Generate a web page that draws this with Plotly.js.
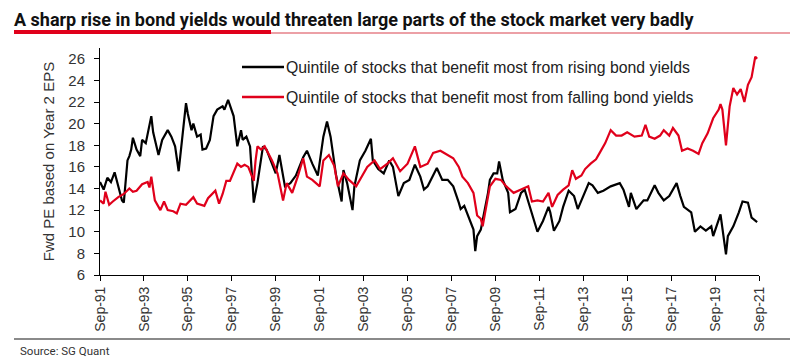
<!DOCTYPE html>
<html>
<head>
<meta charset="utf-8">
<script src="https://cdn.plot.ly/plotly-3.0.1.min.js"></script>
<style>html,body{margin:0;padding:0;background:#fff;}#chart{width:800px;height:364px;}</style>
</head>
<body>
<div id="chart"></div>
<script>
// Quintile of stocks that benefit most from rising bond yields (black)
var risingDates = ["1991-09","1991-11","1992-01","1992-03","1992-05","1992-07","1992-09","1992-10","1992-12","1993-01","1993-02","1993-03","1993-05","1993-07","1993-08","1993-10","1994-01","1994-02","1994-04","1994-05","1994-07","1994-10","1994-12","1995-02","1995-04","1995-06","1995-08","1995-09","1995-11","1995-12","1996-02","1996-04","1996-05","1996-07","1996-09","1996-11","1997-01","1997-04","1997-05","1997-07","1997-10","1997-12","1998-02","1998-03","1998-05","1998-07","1998-09","1998-11","1999-01","1999-02","1999-04","1999-09","1999-11","2000-02","2000-05","2000-08","2000-12","2001-02","2001-05","2001-08","2001-11","2002-01","2002-03","2002-06","2002-09","2002-10","2002-12","2003-03","2003-04","2003-07","2003-10","2004-01","2004-02","2004-05","2004-08","2004-11","2005-01","2005-04","2005-07","2005-10","2006-01","2006-04","2006-06","2006-08","2007-01","2007-04","2007-07","2007-10","2008-01","2008-02","2008-04","2008-06","2008-09","2008-10","2008-11","2009-01","2009-03","2009-05","2009-06","2009-08","2009-10","2009-11","2010-01","2010-04","2010-05","2010-08","2010-11","2011-01","2011-03","2011-06","2011-08","2011-11","2012-02","2012-03","2012-05","2012-08","2012-10","2013-01","2013-04","2013-06","2013-09","2013-12","2014-02","2014-05","2014-08","2014-12","2015-05","2015-07","2015-10","2015-11","2016-02","2016-06","2016-08","2016-12","2017-02","2017-05","2017-08","2017-12","2018-02","2018-04","2018-08","2018-10","2019-01","2019-04","2019-07","2019-08","2019-12","2020-03","2020-04","2020-07","2020-10","2020-12","2021-03","2021-05","2021-08"];
var risingPE = [14.6,13.9,15.0,14.6,15.5,14.2,12.9,12.7,16.6,17.0,17.6,18.7,17.6,17.0,18.5,18.2,20.7,19.2,17.9,17.1,18.5,19.4,18.8,17.9,15.6,18.5,21.9,20.9,19.4,20.0,18.8,19.0,17.6,17.7,18.5,20.7,21.3,21.6,21.3,22.2,20.7,17.9,19.4,18.5,18.8,17.9,12.7,14.5,17.1,17.9,17.6,15.4,17.1,14.2,14.5,15.2,16.9,17.5,16.3,15.2,18.8,20.2,18.8,15.2,12.8,15.7,14.5,12.0,14.2,16.6,17.5,18.6,16.6,15.8,15.4,16.6,16.0,13.3,14.5,14.8,16.2,15.1,13.9,14.2,15.9,14.8,14.8,14.2,12.7,12.1,12.4,11.5,10.2,8.2,9.6,10.2,11.8,13.6,14.8,15.4,15.4,16.5,14.8,13.6,11.8,12.1,13.6,13.9,12.8,11.1,10.0,11.0,12.3,11.8,10.1,11.0,12.3,13.8,13.3,12.1,13.4,14.5,14.3,13.6,13.8,14.2,14.5,13.9,12.3,13.6,12.1,12.9,12.9,14.3,13.6,12.9,13.3,14.5,13.3,12.3,11.8,10.0,10.5,10.1,10.5,9.6,11.6,7.9,9.6,10.5,11.8,12.8,12.7,11.3,10.9];

// Quintile of stocks that benefit most from falling bond yields (red)
var fallingDates = ["1991-09","1991-11","1991-12","1992-02","1992-04","1992-07","1992-10","1993-01","1993-03","1993-05","1993-08","1993-11","1993-12","1994-01","1994-03","1994-06","1994-08","1994-10","1995-01","1995-03","1995-05","1995-08","1995-12","1996-02","1996-06","1996-08","1996-12","1997-01","1997-02","1997-04","1997-06","1997-08","1997-10","1997-12","1998-02","1998-04","1998-06","1998-09","1998-10","1998-11","1999-01","1999-03","1999-07","1999-10","2000-01","2000-03","2000-06","2000-09","2000-12","2001-02","2001-05","2001-09","2001-11","2002-02","2002-05","2002-07","2002-10","2003-01","2003-05","2003-07","2003-11","2004-03","2004-06","2004-10","2005-01","2005-05","2005-09","2006-01","2006-04","2006-08","2006-11","2007-03","2007-06","2007-10","2008-01","2008-03","2008-06","2008-09","2008-11","2009-01","2009-02","2009-04","2009-06","2009-09","2009-12","2010-03","2010-07","2010-11","2011-03","2011-05","2011-08","2011-11","2012-02","2012-04","2012-07","2012-10","2013-01","2013-03","2013-05","2013-08","2013-10","2014-01","2014-04","2014-06","2014-09","2014-12","2015-03","2015-06","2015-09","2016-01","2016-05","2016-07","2016-09","2016-12","2017-03","2017-05","2017-08","2017-10","2018-01","2018-03","2018-06","2018-09","2018-12","2019-02","2019-05","2019-08","2019-11","2019-12","2020-01","2020-03","2020-05","2020-07","2020-09","2020-11","2021-01","2021-03","2021-05","2021-07","2021-08"];
var fallingPE = [12.9,12.6,13.7,12.5,12.8,13.2,13.5,14.0,13.7,13.8,14.4,14.6,14.1,15.1,12.9,12.0,12.8,12.0,11.9,11.7,12.6,12.5,13.2,12.6,12.4,13.1,13.8,13.2,12.6,13.5,14.7,14.7,15.5,16.3,16.0,16.2,16.0,14.7,16.6,17.9,17.6,17.9,16.6,15.4,12.9,14.5,13.6,15.1,16.8,15.1,14.8,14.2,16.6,17.1,16.1,14.2,15.4,14.8,14.2,14.8,16.0,16.6,15.8,16.3,16.8,15.6,16.3,17.9,16.0,16.3,17.3,17.5,17.2,16.8,16.0,15.1,14.5,13.6,11.5,11.2,10.5,12.4,14.2,14.9,14.8,14.2,13.6,13.9,14.2,12.8,12.9,12.8,13.6,12.3,13.4,13.9,14.3,15.7,14.9,15.2,15.8,16.3,16.7,17.3,18.2,19.4,18.9,18.9,19.2,18.8,18.9,19.9,18.8,18.6,18.9,19.4,18.9,19.6,18.9,17.5,17.7,17.5,17.2,18.2,19.1,20.5,21.3,21.8,21.3,18.0,21.6,23.3,22.7,23.2,22.0,23.6,24.3,26.2,26.0];

var seriesNames = ["Quintile of stocks that benefit most from rising bond yields",
                   "Quintile of stocks that benefit most from falling bond yields"];
var seriesColors = ["#000000", "#e0001b"];
var tickDates = ["1991-09-01","1993-09-01","1995-09-01","1997-09-01","1999-09-01","2001-09-01","2003-09-01","2005-09-01","2007-09-01","2009-09-01","2011-09-01","2013-09-01","2015-09-01","2017-09-01","2019-09-01","2021-09-01"];
var tickLabels = ["Sep-91","Sep-93","Sep-95","Sep-97","Sep-99","Sep-01","Sep-03","Sep-05","Sep-07","Sep-09","Sep-11","Sep-13","Sep-15","Sep-17","Sep-19","Sep-21"];
var yTicks = [6,8,10,12,14,16,18,20,22,24,26];

var titleText = "A sharp rise in bond yields would threaten large parts of the stock market very badly";
var yTitle = "Fwd PE based on Year 2 EPS";
var sourceText = "Source: SG Quant";

var xRange = ["1991-09-01","2021-09-01"];
var yRange = [6,27];

var traces = [
  {x: risingDates, y: risingPE, name: seriesNames[0], type: "scatter", mode: "lines",
   line: {color: seriesColors[0], width: 2.2}},
  {x: fallingDates, y: fallingPE, name: seriesNames[1], type: "scatter", mode: "lines",
   line: {color: seriesColors[1], width: 2.2}}
];

// pixel -> paper helpers for decorations (plot area: x 100..759, y 48..275)
function px(x) { return (x - 100) / 659; }
function py(y) { return (275 - y) / 227; }

var axisFont = {family: "Liberation Sans, Arial, sans-serif", size: 14, color: "#333333"};
var yFont = {family: "Liberation Sans, Arial, sans-serif", size: 15, color: "#333333"};
var condensed = "Liberation Sans Narrow, Arial Narrow, Roboto, sans-serif";
var legendFont = {family: "Liberation Sans, Arial, sans-serif", size: 15.8, color: "#222222"};

var legendRows = [67, 97];
var shapes = [
  {type: "line", xref: "paper", yref: "paper", x0: px(14), x1: px(271), y0: py(32), y1: py(32),
   line: {color: "#e0001b", width: 4}},
  {type: "line", xref: "paper", yref: "paper", x0: px(271), x1: px(790), y0: py(33), y1: py(33),
   line: {color: "#d9434f", width: 1.2}},
  {type: "line", xref: "paper", yref: "paper", x0: px(14), x1: px(790), y0: py(339), y1: py(339),
   line: {color: "#8a8a8a", width: 2}}
];
var annotations = [
  {text: sourceText, xref: "paper", yref: "paper", x: px(18), y: py(351),
   xanchor: "left", yanchor: "middle", showarrow: false,
   font: {family: condensed, size: 11.5, color: "#333"}}
];
for (var i = 0; i < seriesNames.length; i++) {
  shapes.push({type: "line", xref: "paper", yref: "paper", x0: px(242), x1: px(284),
               y0: py(legendRows[i]), y1: py(legendRows[i]),
               line: {color: seriesColors[i], width: 2.5}});
  annotations.push({text: seriesNames[i], xref: "paper", yref: "paper", x: px(284), y: py(legendRows[i]),
                    xanchor: "left", yanchor: "middle", showarrow: false, font: legendFont});
}

var layout = {
  width: 800, height: 364,
  margin: {l: 100, r: 41, t: 48, b: 89},
  paper_bgcolor: "#ffffff", plot_bgcolor: "#ffffff",
  showlegend: false,
  title: {text: titleText, xref: "container", yref: "container", x: 14/800, xanchor: "left",
          y: 1 - 20/364, yanchor: "middle",
          font: {family: condensed, size: 18, color: "#111111", weight: "bold"}},
  xaxis: {type: "date", range: xRange, tickvals: tickDates, ticktext: tickLabels, tickangle: -90,
          ticks: "outside", ticklen: 5, tickcolor: "#000", tickwidth: 1,
          showline: true, linecolor: "#000", linewidth: 1, showgrid: false, zeroline: false,
          tickfont: axisFont, fixedrange: true},
  xaxis2: {type: "date", range: xRange, tickvals: tickDates, overlaying: "x", anchor: "y", side: "bottom",
           ticks: "inside", ticklen: 5, tickcolor: "#000", showticklabels: false,
           showline: false, showgrid: false, zeroline: false},
  yaxis: {range: yRange, tickvals: yTicks, ticks: "outside", ticklen: 5, tickcolor: "#000",
          showline: true, linecolor: "#000", linewidth: 1, showgrid: false, zeroline: false,
          tickfont: yFont, ticklabelstandoff: 6,
          title: {text: yTitle, font: yFont, standoff: 10}},
  yaxis2: {range: yRange, tickvals: yTicks, overlaying: "y", anchor: "x", side: "left",
           ticks: "inside", ticklen: 5, tickcolor: "#000", showticklabels: false,
           showline: false, showgrid: false, zeroline: false},
  shapes: shapes,
  annotations: annotations
};

Plotly.newPlot("chart", traces, layout, {displayModeBar: false, staticPlot: true});
</script>
</body>
</html>
